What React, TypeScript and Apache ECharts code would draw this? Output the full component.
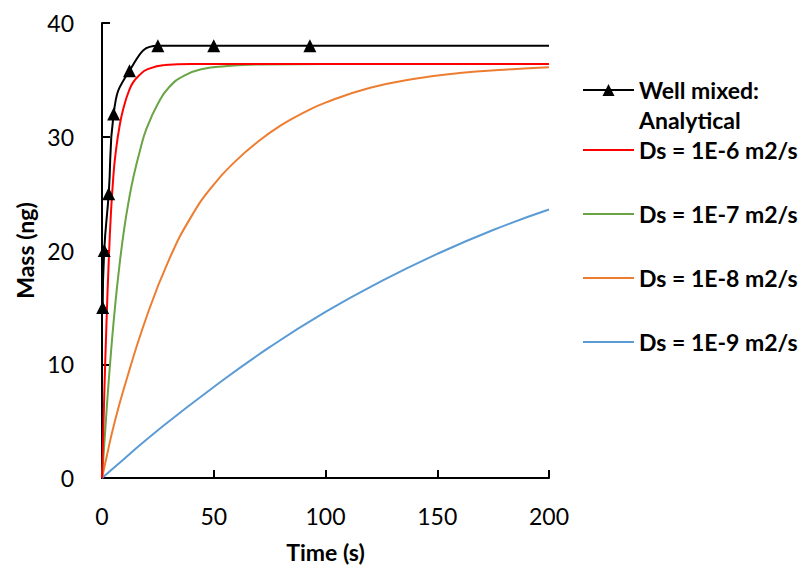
import React, { useEffect, useRef } from 'react';
import * as echarts from 'echarts';

const FONT = 'Lato, "Open Sans", sans-serif';

const seriesNames = [
  'Well mixed: Analytical',
  'Ds = 1E-6 m2/s',
  'Ds = 1E-7 m2/s',
  'Ds = 1E-8 m2/s',
  'Ds = 1E-9 m2/s',
];
const seriesColors = ['#000000', '#FF0000', '#6AA444', '#ED7D31', '#5B9BD5'];

const xTicks = { min: 0, max: 200, interval: 50 };
const yTicks = { min: 0, max: 40, interval: 10 };

// Well mixed analytical (markers), last point has no marker
const wellMixed: number[][] = [
  [0.3, 15], [1, 20], [3, 25], [5.2, 32], [12.3, 35.8], [25, 38], [50, 38], [93, 38], [200, 38],
];
const ds6: number[][] = [
  [0, 0], [1, 7.2], [2, 13.6], [3, 19.0], [4, 23.3], [5, 26.3], [6, 28.4], [8, 31.1], [10, 32.8],
  [12, 34.0], [14, 34.8], [17, 35.46], [20, 35.9], [28, 36.3], [40, 36.4], [100, 36.4], [200, 36.4],
];
const ds7: number[][] = [
  [0, 0], [2, 5.8], [4, 11.0], [6, 15.4], [8, 19.0], [10, 22.0], [12, 24.4], [14, 26.4], [17, 28.8],
  [20, 30.75], [25, 32.9], [30, 34.35], [37, 35.4], [45, 35.95], [55, 36.2], [70, 36.35],
  [100, 36.4], [200, 36.4],
];
const ds8: number[][] = [
  [0, 0], [2, 1.8], [5, 4.4], [10, 8.0], [20, 14.2], [30, 19.2], [40, 23.0], [50, 25.8], [60, 27.9],
  [70, 29.6], [80, 31.0], [90, 32.1], [100, 33.0], [120, 34.3], [140, 35.1], [160, 35.6], [180, 35.9],
  [200, 36.1],
];
const ds9: number[][] = [
  [0, 0], [10, 1.7], [25, 4.2], [50, 8.0], [75, 11.5], [100, 14.6], [125, 17.3], [150, 19.7],
  [175, 21.8], [200, 23.6],
];

export default function App() {
  const ref = useRef<HTMLDivElement>(null);
  useEffect(() => {
    if (!ref.current) return;
    const chart = echarts.init(ref.current, undefined, { renderer: 'svg' });
    const lineData = [ds6, ds7, ds8, ds9];
    const legendText = { fontFamily: FONT, fontSize: 23, fontWeight: 'bold', color: '#000' };
    const option: any = {
      animation: false,
      backgroundColor: '#ffffff',
      grid: { left: 102, top: 23, width: 447, height: 455, containLabel: false },
      xAxis: {
        type: 'value',
        min: xTicks.min,
        max: xTicks.max,
        interval: xTicks.interval,
        name: 'Time (s)',
        nameLocation: 'middle',
        nameGap: 62,
        nameTextStyle: { fontFamily: FONT, fontSize: 23, fontWeight: 'bold', color: '#000' },
        axisLine: { lineStyle: { color: '#000', width: 2 } },
        axisTick: { inside: true, length: 8, lineStyle: { color: '#000', width: 2 } },
        axisLabel: { margin: 26, fontFamily: FONT, fontSize: 23, color: '#000' },
        splitLine: { show: false },
      },
      yAxis: {
        type: 'value',
        min: yTicks.min,
        max: yTicks.max,
        interval: yTicks.interval,
        name: 'Mass (ng)',
        nameLocation: 'middle',
        nameGap: 66,
        nameTextStyle: { fontFamily: FONT, fontSize: 23, fontWeight: 'bold', color: '#000' },
        axisLine: { show: true, lineStyle: { color: '#000', width: 2 } },
        axisTick: { show: true, inside: true, length: 8, lineStyle: { color: '#000', width: 2 } },
        axisLabel: { margin: 28, fontFamily: FONT, fontSize: 23, color: '#000' },
        splitLine: { show: false },
      },
      legend: [
        {
          data: [seriesNames[0]],
          orient: 'vertical',
          left: 582,
          top: 45,
          padding: 0,
          itemWidth: 51,
          itemHeight: 15,
          formatter: (n: string) => '\n' + n.replace(': ', ':\n'),
          textStyle: { ...legendText, lineHeight: 30 },
        },
        {
          data: seriesNames.slice(1),
          orient: 'vertical',
          left: 582,
          top: 137,
          padding: 0,
          itemGap: 38,
          itemWidth: 51,
          itemHeight: 15,
          itemStyle: { color: 'rgba(0,0,0,0)', borderWidth: 0 },
          textStyle: { ...legendText, lineHeight: 26 },
        },
      ],
      series: [
        ...lineData.map((d, i) => ({
          name: seriesNames[i + 1],
          type: 'line',
          data: d,
          smooth: true,
          symbol: 'none',
          lineStyle: { color: seriesColors[i + 1], width: 2 },
          itemStyle: { color: seriesColors[i + 1] },
          z: 2 + (4 - i),
        })),
        {
          name: seriesNames[0],
          type: 'line',
          data: wellMixed.map((p, i) =>
            i === wellMixed.length - 1 ? { value: p, symbol: 'none' } : { value: p }
          ),
          smooth: true,
          symbol: 'triangle',
          symbolSize: 13,
          lineStyle: { color: '#000', width: 2 },
          itemStyle: { color: '#000' },
          z: 10,
        },
      ],
    };
    chart.setOption(option);
    return () => chart.dispose();
  }, []);
  return (
    <div
      ref={ref}
      style={{ position: 'fixed', left: 0, top: 0, width: 808, height: 571 }}
    />
  );
}
